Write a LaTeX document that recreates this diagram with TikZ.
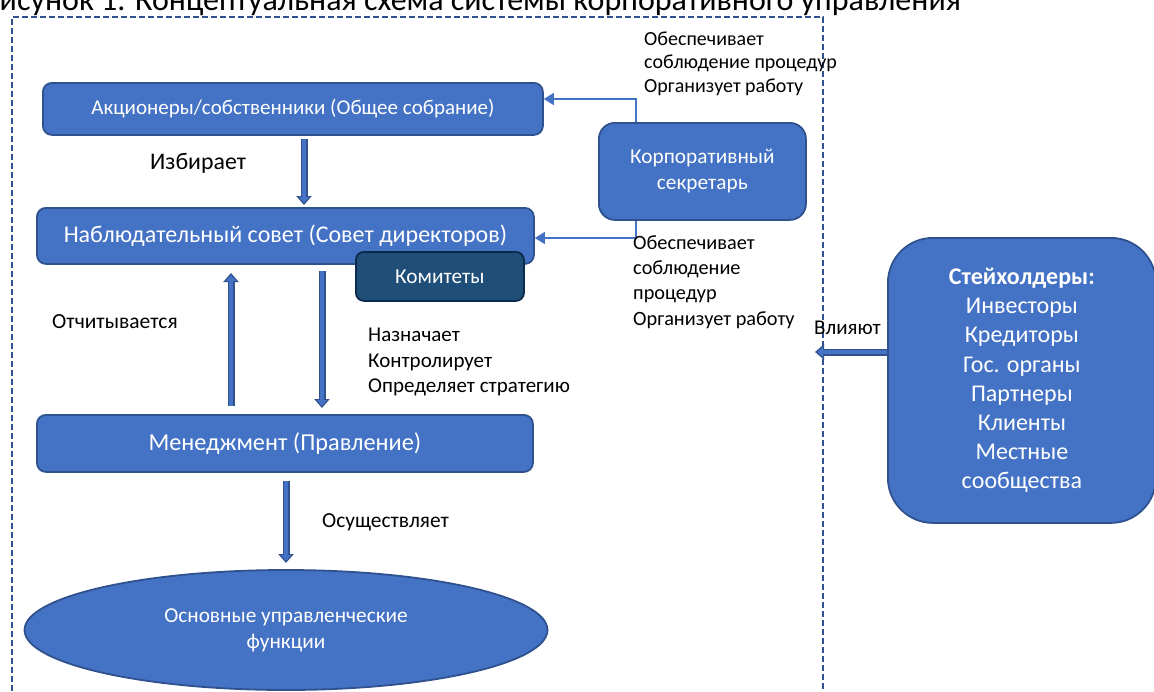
\documentclass[tikz,border=0pt]{standalone}
\usepackage{fontspec}
\setmainfont{Carlito}
\usetikzlibrary{arrows.meta,shapes.geometric,calc}
\definecolor{boxfill}{HTML}{4472C4}
\definecolor{boxline}{HTML}{2F528F}
\definecolor{comfill}{HTML}{1F4E79}
\definecolor{comline}{HTML}{0C2A4A}
\tikzset{
  bluebox/.style={draw=boxline, line width=1.8pt, fill=boxfill, rounded corners=9pt, text=white, inner sep=0pt, anchor=north west, align=center},
  lbl/.style={text=black, inner sep=0pt, align=left, anchor=west},
  thinarrow/.style={draw=boxfill, line width=1.4pt, -{Triangle[width=12pt,length=10pt]}},
  blockout/.style={draw=boxline, line width=7pt, -{Triangle[width=15pt,length=9pt]}},
  blockin/.style={draw=boxfill, line width=3.6pt, shorten >=2pt, -{Triangle[width=10pt,length=6pt]}},
}
\newcommand{\blockarr}[2]{\draw[blockout] (#1) -- (#2); \draw[blockin] (#1) -- (#2);}
\begin{document}
\begin{tikzpicture}[x=1pt,y=-1pt]
\useasboundingbox (0,0) rectangle (1154,691);
% caption (cut off at top)
\node[anchor=base west, inner sep=0pt, font=\fontsize{32}{36}\selectfont] (cap) at (-17,10) {Рисунок 1. Концептуальная схема системы корпоративного управления};
% dashed frame
\draw[boxline, line width=2pt, dash pattern=on 6pt off 3pt] (12,700) -- (12,17) -- (823,17) -- (823,700);
% boxes
\node[bluebox, minimum width=500pt, minimum height=52pt, font=\fontsize{21}{24}\selectfont] (ak) at (42,82) {Акционеры/собственники (Общее собрание)};
\node[bluebox, minimum width=497pt, minimum height=56pt, font=\fontsize{24}{26}\selectfont] (ns) at (36,207) {Наблюдательный совет (Совет директоров)};
\node[draw=comline, line width=1.8pt, fill=comfill, rounded corners=8pt, text=white, inner sep=0pt, anchor=north west, minimum width=168pt, minimum height=49pt, font=\fontsize{21.3}{24}\selectfont] (kom) at (355,251) {Комитеты};
\node[bluebox, rounded corners=16pt, minimum width=207pt, minimum height=97pt, font=\fontsize{21.3}{26}\selectfont] (sec) at (598,122) {Корпоративный\\секретарь};
\node[bluebox, minimum width=496pt, minimum height=57pt, font=\fontsize{24.3}{26}\selectfont] (men) at (36,414) {Менеджмент (Правление)};
\node[ellipse, draw=boxline, line width=1.8pt, fill=boxfill, text=white, inner sep=0pt, minimum width=523pt, minimum height=120pt, align=center, font=\fontsize{21.3}{26}\selectfont] (osn) at (286,630) {Основные управленческие\\функции};
\node[bluebox, rounded corners=45pt, minimum width=268pt, minimum height=285pt, font=\fontsize{24}{29.2}\selectfont] (st) at (887,237) {\textbf{Стейхолдеры:}\\Инвесторы\\Кредиторы\\Гос. органы\\Партнеры\\Клиенты\\Местные\\сообщества};
% block arrows
\coordinate (a1s) at (304,139); \coordinate (a1e) at (304,205);
\blockarr{a1s}{a1e}
\coordinate (a2s) at (231,406); \coordinate (a2e) at (231,273);
\blockarr{a2s}{a2e}
\coordinate (a3s) at (322,271); \coordinate (a3e) at (322,408);
\blockarr{a3s}{a3e}
\coordinate (a4s) at (286,481); \coordinate (a4e) at (286,563);
\blockarr{a4s}{a4e}
\coordinate (a5e) at (815,352);
\draw[blockout] (st.west |- a5e) -- (a5e); \draw[blockin] (st.west |- a5e) -- (a5e);
% thin arrows from secretary
\draw[thinarrow] (sec.north -| 636,0) |- (ak.east |- 0,99);
\draw[thinarrow] (sec.south -| 636,0) |- (ns.east |- 0,238);
% labels
\node[lbl, font=\fontsize{23.8}{26}\selectfont] (l1) at (150,163) {Избирает};
\node[lbl, font=\fontsize{21.5}{24}\selectfont] (l2) at (52,322) {Отчитывается};
\node[lbl, font=\fontsize{21}{25.5}\selectfont] (l3) at (368,362) {Назначает\\Контролирует\\Определяет стратегию};
\node[lbl, font=\fontsize{21.4}{24}\selectfont] (l4) at (322,522) {Осуществляет};
\node[lbl, font=\fontsize{21}{24}\selectfont] (l5) at (814,328) {Влияют};
\node[lbl, font=\fontsize{20}{23.5}\selectfont] (l6) at (644,63.5) {Обеспечивает\\соблюдение процедур\\Организует работу};
\node[lbl, font=\fontsize{20.3}{25.3}\selectfont] (l7) at (633,282) {Обеспечивает\\соблюдение\\процедур\\Организует работу};
\end{tikzpicture}
\end{document}
